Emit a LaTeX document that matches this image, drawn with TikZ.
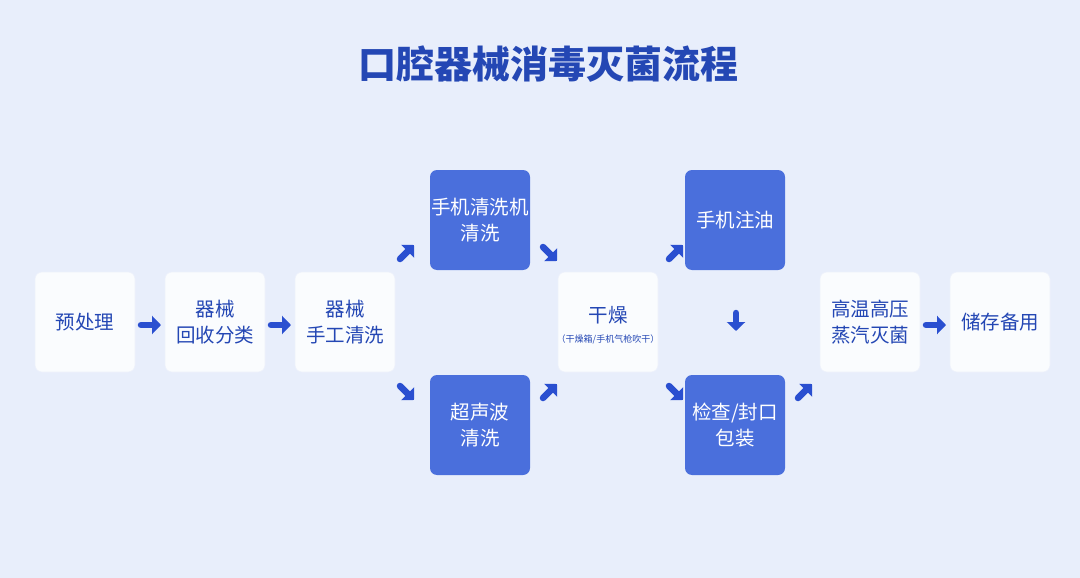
\documentclass[tikz,border=0pt]{standalone}
\usepackage{fontspec}
\setmainfont{Noto Sans CJK SC}
\usetikzlibrary{arrows.meta}
\definecolor{bg}{HTML}{E8EEFB}
\definecolor{bl}{HTML}{4A6FDC}
\definecolor{tx}{HTML}{2447B4}
\definecolor{ar}{HTML}{2A4FD0}
\begin{document}
\begin{tikzpicture}[x=1pt,y=-1pt,
 wbox/.style={draw=white!90!bl,line width=0.6pt,fill=white!80!bg,rounded corners=7pt,minimum width=100pt,minimum height=100pt,align=center,text=tx,font=\fontsize{19.5}{26}\selectfont,inner sep=0pt},
 bbox/.style={fill=bl,rounded corners=7pt,minimum width=100pt,minimum height=100pt,align=center,text=white,font=\fontsize{19.5}{26}\selectfont,inner sep=0pt},
 fat/.style={draw=ar,line width=6.5pt,line cap=round,-{Triangle[length=9pt,width=18pt]}}]
\fill[bg] (0,0) rectangle (1080,578);
\node[text=tx,font=\bfseries\fontsize{38}{44}\selectfont] (title) at (548,64) {口腔器械消毒灭菌流程};
\node[wbox] (a) at (85,322) {预处理};
\node[wbox] (b) at (215,322) {器械\\回收分类};
\node[wbox] (c) at (345,322) {器械\\手工清洗};
\node[bbox] (d) at (480,220) {手机清洗机\\清洗};
\node[bbox] (e) at (480,425) {超声波\\清洗};
\node[wbox] (f) at (608,322) {};
\node[text=tx,font=\fontsize{19.5}{22}\selectfont] (f1) at (608,315) {干燥};
\node[text=tx,font=\fontsize{9}{11}\selectfont] (f2) at (608,339) {（干燥箱/手机气枪吹干）};
\node[bbox] (g) at (735,220) {手机注油};
\node[bbox] (h) at (735,425) {检查/封口\\包装};
\node[wbox] (i) at (870,322) {高温高压\\蒸汽灭菌};
\node[wbox] (j) at (1000,322) {储存备用};
\foreach \n/\x/\y/\u/\v in {1/141/325/161/325, 2/271/325/291/325, 3/926/325/946/325,
  4/400/259/414/245, 5/400/386/414/400, 6/543/247/557/261, 7/543/398/557/384,
  8/669/259/683/245, 9/669/386/683/400, 10/798/398/812/384, 11/736/313/736/331}{
  \coordinate (s\n) at (\x,\y); \coordinate (t\n) at (\u,\v);
  \draw[fat] (s\n) -- (t\n);}
\end{tikzpicture}
\end{document}
